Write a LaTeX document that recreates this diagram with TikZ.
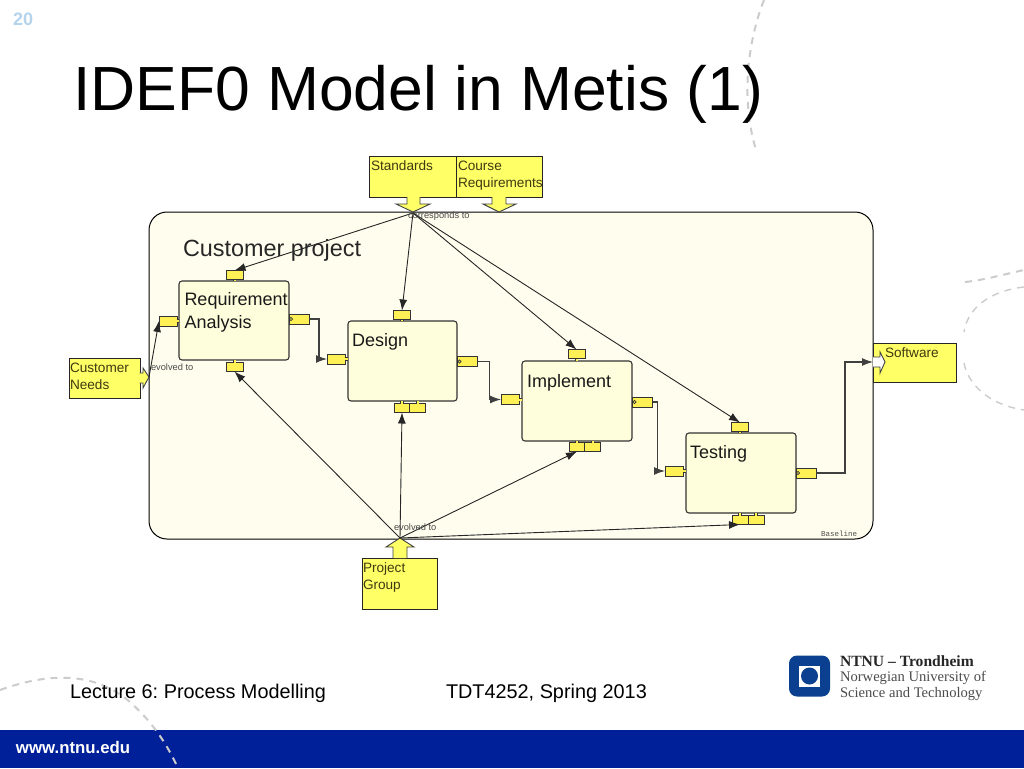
\documentclass[tikz,border=0pt]{standalone}
\usepackage{fontspec}
\setmainfont{Liberation Sans}
\setmonofont{Liberation Mono}
\newfontfamily\logoserif{Liberation Serif}
\usetikzlibrary{arrows.meta, positioning, calc}
\usepackage{xcolor}
\definecolor{barblue}{HTML}{00209A}
\definecolor{logoblue}{HTML}{0B3F8F}
\definecolor{pagenum}{HTML}{B4D4EE}
\definecolor{frameBg}{HTML}{FFFEEE}
\definecolor{procBg}{HTML}{FFFEDC}
\definecolor{lblyellow}{HTML}{FFFF66}
\definecolor{portyellow}{HTML}{FFF055}
\definecolor{ylwtext}{HTML}{3F3A10}
\newcommand{\pxfont}[2]{\fontsize{#1}{#2}\selectfont}
\frenchspacing

\begin{document}
\begin{tikzpicture}[
    x=1pt, y=-1pt,
    every node/.style={inner sep=0pt, outer sep=0pt},
    proc/.style={draw=black!80, fill=procBg, line width=1.1pt, rounded corners=3pt, anchor=north west},
    ptxt/.style={anchor=north west, align=left, text=black!90, font=\pxfont{18}{23}},
    port/.style={draw=black!80, fill=portyellow, line width=0.9pt, minimum width=17pt, minimum height=9pt},
    oport/.style={port, minimum width=20pt, minimum height=10pt},
    tab/.style={draw=black!80, double=portyellow, double distance=2pt, line width=0.7pt},
    ybox/.style={draw=black!85, fill=lblyellow, line width=0.9pt, anchor=north west},
    ytxt/.style={anchor=north west, align=left, text=ylwtext, font=\pxfont{13.6}{17}},
    yarr/.style={draw=black!75, fill=lblyellow, line width=0.9pt},
    note/.style={anchor=base west, text=black!70, font=\pxfont{9.3}{10}},
    arr/.style={-{Latex[length=11pt,width=8pt]}, line width=0.9pt, draw=black!85},
    flow/.style={arr, line width=1.1pt, draw=black!75},
    swoosh/.style={draw=black!20, line width=2pt, dash pattern=on 7pt off 6pt},
    foot/.style={anchor=base west, font=\pxfont{19.85}{22}}
]
    \useasboundingbox (0,0) rectangle (1024,768);
    % slide background
    \fill[white] (0,0) rectangle (1024,768);
    \fill[barblue] (0,730) rectangle (1024,768);
    \draw[swoosh] (764,0) .. controls (752,30) and (738,90) .. (756,150);
    \draw[swoosh] (965,282) .. controls (985,280) and (1005,274) .. (1024,270);
    \draw[swoosh, line width=1.4pt] (1024,287) .. controls (995,290) and (968,305) .. (964,332);
    \draw[swoosh, line width=1.4pt] (964,363) .. controls (968,385) and (990,405) .. (1024,410);
    \draw[swoosh] (0,690) .. controls (50,672) and (95,672) .. (130,702) .. controls (150,720) and (165,740) .. (178,768);

    % slide texts
    \node[anchor=base west, text=pagenum, font=\pxfont{18}{20}\bfseries] (pageNo) at (13,26) {20};
    \node[anchor=base west, font=\pxfont{62.4}{70}] (title) at (73,110) {IDEF0 Model in Metis (1)};
    \node[foot] (lecture) at (70,698) {Lecture 6: Process Modelling};
    \node[foot] (course) at (446,698) {TDT4252, Spring 2013};
    \node[anchor=base west, text=white, font=\pxfont{16.8}{18}\bfseries] (url) at (16,753) {www.ntnu.edu};

    % logo
    \node[fill=logoblue, minimum size=41pt, rounded corners=8pt] (logo) at (809.5,676) {};
    \node[fill=white, minimum size=21pt] (logoIn) at (logo) {};
    \node[fill=logoblue, circle, minimum size=17pt] (logoDot) at (logo) {};
    \node[anchor=base west, text=black!85, font=\logoserif\pxfont{15.6}{16}\bfseries] (ntnu) at (840,666) {NTNU – Trondheim};
    \node[anchor=base west, text=black!70, font=\logoserif\pxfont{14.6}{16}] (ntnuA) at (840,681) {Norwegian University of};
    \node[anchor=base west, text=black!70, font=\logoserif\pxfont{14.6}{16}] (ntnuB) at (840,697) {Science and Technology};

    % outer frame
    \node[draw=black, fill=frameBg, line width=1pt, rounded corners=18pt, anchor=north west,
        minimum width=724pt, minimum height=327pt] (frame) at (149,212) {};
    \node[anchor=base west, text=black!85, font=\pxfont{23.4}{26}] (frameTxt) at (183,256) {Customer project};
    \node[anchor=base west, text=black!70, font=\ttfamily\pxfont{7.5}{8}] (baseline) at (821,536) {Baseline};

    % processes
    \node[proc, minimum width=110pt, minimum height=79pt] (req) at (179,281) {};
    \node[proc, minimum width=109pt, minimum height=80pt] (design) at (348,321) {};
    \node[proc, minimum width=110pt, minimum height=80pt] (impl) at (522,361) {};
    \node[proc, minimum width=110pt, minimum height=80pt] (test) at (686,433) {};
    \node[ptxt] (reqTxt) at (184.5,292) {Requirement\\Analysis};
    \node[ptxt] (designTxt) at (352,333) {Design};
    \node[ptxt] (implTxt) at (527,374) {Implement};
    \node[ptxt] (testTxt) at (690,445) {Testing};

    % ports of each process
    \node[port] (reqT) at (234.5,275) {};
    \node[port] (reqB) at (234.5,367) {};
    \node[port, minimum width=18pt, minimum height=10pt] (reqL) at (168,321) {};
    \node[oport] (reqR) at (299,319) {};
    \node[port] (designT) at (402,315) {};
    \node[port, minimum width=16pt] (designBa) at (402,408) {};
    \node[port, minimum width=16pt] (designBb) at (417.5,408) {};
    \node[port, minimum width=18pt, minimum height=10pt] (designL) at (336,359) {};
    \node[oport] (designR) at (467.5,361.5) {};
    \node[port] (implT) at (576.5,354) {};
    \node[port, minimum width=16pt] (implBa) at (577,447) {};
    \node[port, minimum width=16pt] (implBb) at (592.5,447) {};
    \node[port, minimum width=18pt, minimum height=10pt] (implL) at (510,399.5) {};
    \node[oport] (implR) at (642.5,402) {};
    \node[port] (testT) at (740,427) {};
    \node[port, minimum width=16pt] (testBa) at (740,520) {};
    \node[port, minimum width=16pt] (testBb) at (756,520) {};
    \node[port, minimum width=18pt, minimum height=10pt] (testL) at (674,471) {};
    \node[oport] (testR) at (806,473) {};

    \foreach \p/\q in {reqT/req, designT/design, implT/impl, testT/test}
        \draw[tab] (\p.south) -- (\p.south |- \q.north);
    \foreach \p/\q in {reqB/req, designBa/design, designBb/design, implBa/impl, implBb/impl, testBa/test, testBb/test}
        \draw[tab] (\p.north) -- (\p.north |- \q.south);
    \foreach \p/\q in {reqL/req, designL/design, implL/impl, testL/test}
        \draw[tab] (\p.east) -- (\p.east -| \q.west);
    \foreach \p in {reqR, designR, implR, testR}
        \draw[draw=black!80, line width=0.7pt] ($(\p.west)+(2,0)$) circle (1.6pt);

    % outside boxes
    \node[ybox, minimum width=87pt, minimum height=41pt] (standards) at (369,156) {};
    \node[ybox, minimum width=86pt, minimum height=41pt] (courseReq) at (456,156) {};
    \node[ybox, minimum width=71pt, minimum height=40pt] (custNeeds) at (69,358) {};
    \node[ybox, minimum width=83pt, minimum height=39pt] (software) at (873,343) {};
    \node[ybox, minimum width=75pt, minimum height=51pt] (projGroup) at (362,558) {};
    \node[ytxt] (standardsTxt) at (371,161) {Standards};
    \node[ytxt] (courseReqTxt) at (458,161) {Course\\Requirements};
    \node[ytxt] (custNeedsTxt) at (70,363) {Customer\\Needs};
    \node[ytxt] (softwareTxt) at (885,348) {Software};
    \node[ytxt] (projGroupTxt) at (363,563) {Project\\Group};

    % block arrows on the frame
    \draw[yarr] (407,197) -- (407,204) -- (396,204) -- (413,212) -- (430,204) -- (420,204) -- (420,197);
    \draw[yarr] (492,197) -- (492,204) -- (483,204) -- (499,212) -- (516,204) -- (506,204) -- (506,197);
    \draw[yarr] (139.5,373) -- (143,373) -- (143,368) -- (149,377) -- (143,388) -- (143,383) -- (139.5,383);
    \draw[yarr, fill=white] (873,357) -- (880,357) -- (880,352) -- (885,362) -- (880,373) -- (880,367) -- (873,367);
    \draw[yarr] (393,558) -- (393,547) -- (386,547) -- (400,538) -- (414,547) -- (407,547) -- (407,558);

    \coordinate (hubTop) at (413,213);
    \coordinate (hubBot) at (400,538);
    \coordinate (custOut) at (149,377);
    \coordinate (softIn) at (873,362);

    % controls
    \draw[arr] (hubTop) -- (reqT.north);
    \draw[arr] (hubTop) -- (designT.north);
    \draw[arr] (hubTop) -- (implT.north);
    \draw[arr] (hubTop) -- (testT.north);
    % mechanisms
    \draw[arr] (hubBot) -- (reqB.south);
    \draw[arr] (hubBot) -- (designBa.south);
    \draw[arr] (hubBot) -- (implBa.south);
    \draw[arr] (hubBot) -- (testBa.south);
    % inputs and outputs
    \draw[arr] (custOut) -- (reqL.west);
    \draw[flow] (reqR.east) -- ++(10,0) |- (designL.west);
    \draw[flow] (designR.east) -- ++(12,0) |- (implL.west);
    \draw[flow] (implR.east) -- ++(5,0) |- (testL.west);
    \draw[flow] (testR.east) -- ++(29,0) |- (softIn);

    % link labels
    \node[note] (noteTop) at (408,218) {corresponds to};
    \node[note] (noteCust) at (151,370) {evolved to};
    \node[note] (noteBot) at (394,530) {evolved to};
\end{tikzpicture}
\end{document}
